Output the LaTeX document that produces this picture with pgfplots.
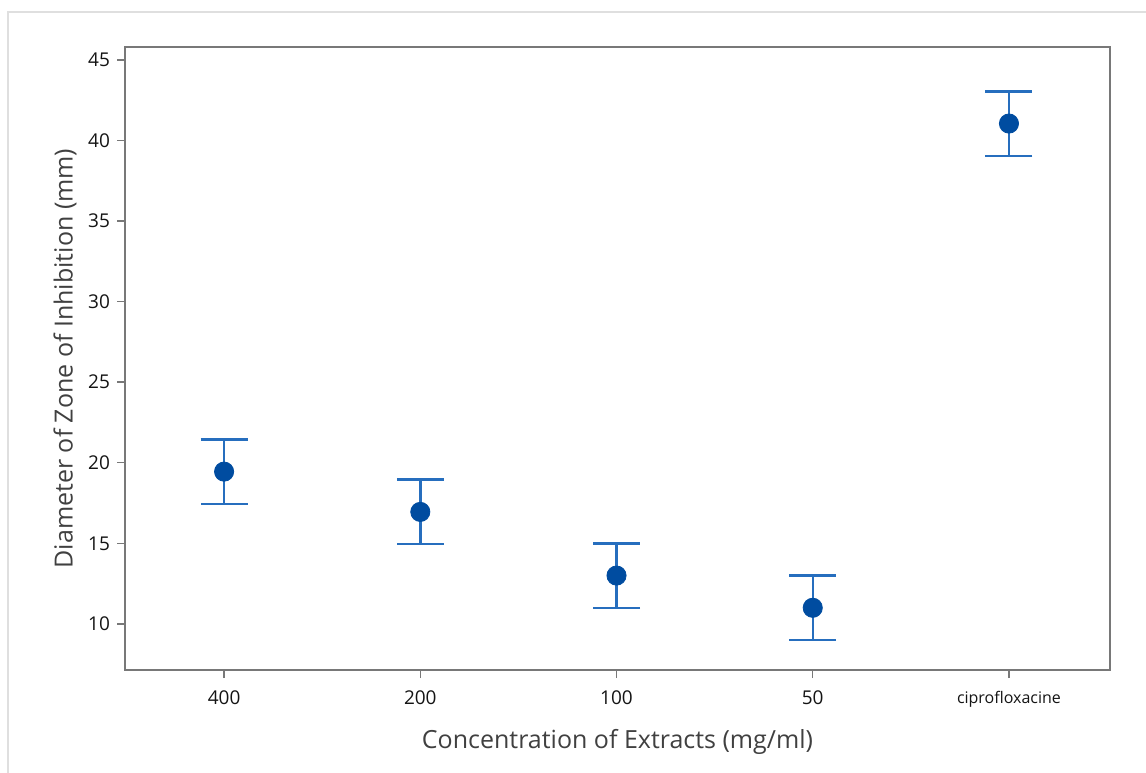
\documentclass[border=0pt]{standalone}
\usepackage{fontspec}
\setmainfont{Open Sans}
\usepackage{pgfplots}
\pgfplotsset{compat=1.18}
\definecolor{ptblue}{RGB}{0,76,160}
\definecolor{barblue}{RGB}{38,110,190}
\definecolor{framegray}{RGB}{120,120,120}
\definecolor{txt}{RGB}{20,20,20}

\begin{document}
\begin{tikzpicture}
  \path[use as bounding box] (0,0) rectangle (573pt,386pt);
  \draw[gray!25, line width=0.6pt] (4pt,-2pt) rectangle (576pt,380pt);
  \begin{axis}[
    at={(62.5pt,51pt)}, anchor=south west,
    scale only axis, width=492.5pt, height=311.5pt,
    xmin=-0.505, xmax=4.515, ymin=7.14, ymax=45.8,
    xtick={0,1,2,3,4},
    xticklabels={400,200,100,50,{\fontsize{8pt}{9pt}\selectfont ciprofloxacine}},
    ytick={10,15,...,45},
    tick align=outside, major tick length=4pt,
    axis line style={framegray, line width=0.9pt},
    tick style={framegray, line width=0.7pt},
    xtick pos=bottom, ytick pos=left,
    tick label style={font=\fontsize{9.5pt}{11pt}\selectfont, text=txt},
    /pgf/number format/assume math mode=true,
    label style={font=\fontsize{12.5pt}{14pt}\selectfont, text=black!75},
    xlabel={Concentration of Extracts (mg/ml)},
    ylabel={Diameter of Zone of Inhibition (mm)},
    xlabel style={yshift=-4pt},
    ylabel style={yshift=-1pt},
    xticklabel style={yshift=-3pt},
  ]
    \addplot[only marks, mark=none, draw=barblue, line width=1.2pt,
      error bars/.cd, y dir=both, y explicit,
      error mark=|, error mark options={barblue, line width=1.2pt, mark size=11.75pt},
      error bar style={barblue, line width=1.2pt}]
      coordinates {
        (0,19.45) +- (0,2)
        (1,16.95) +- (0,2)
        (2,13.0) +- (0,2)
        (3,11.0) +- (0,2)
        (4,41.05) +- (0,2)
      };
    \addplot[only marks, mark=*, mark size=4.8pt, color=ptblue]
      coordinates {(0,19.45) (1,16.95) (2,13.0) (3,11.0) (4,41.05)};
  \end{axis}
\end{tikzpicture}
\end{document}
